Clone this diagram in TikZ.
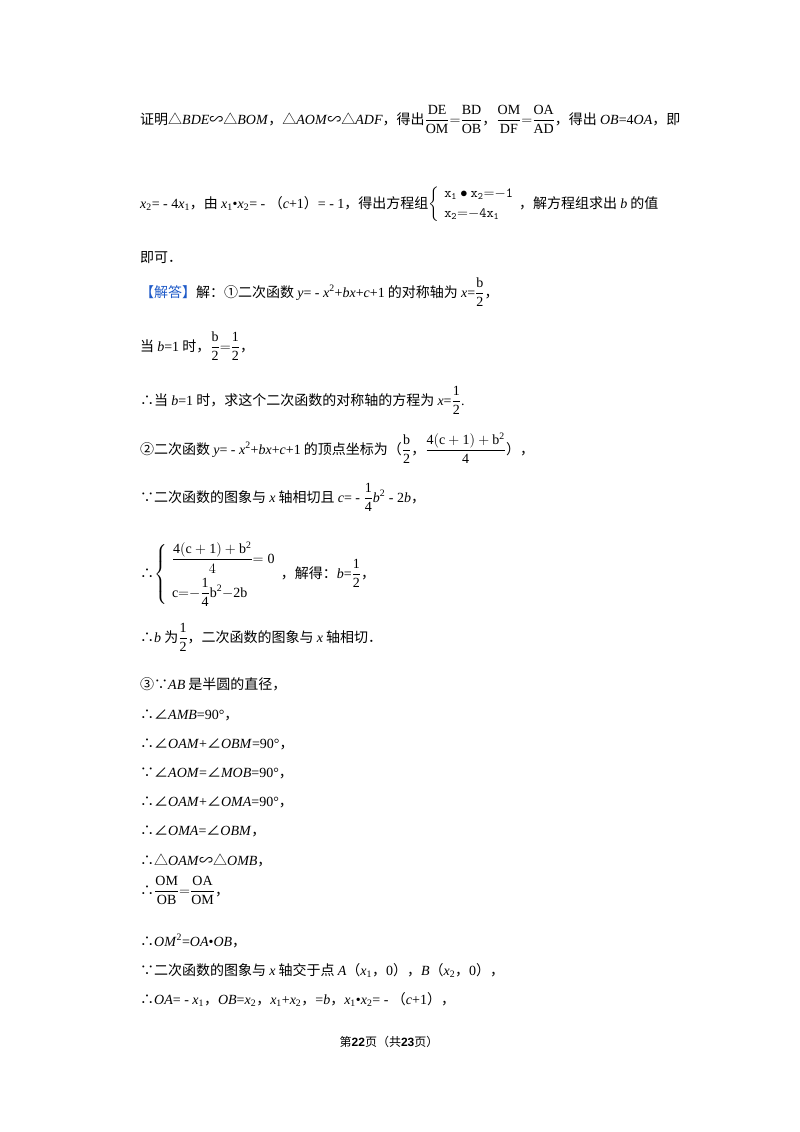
\documentclass[tikz,border=0pt]{standalone}
\usepackage{amsmath}
\usepackage{fontspec}
\setmainfont{Liberation Serif}
\newfontfamily\cjk{Noto Sans CJK SC}
\newfontfamily\cjkb{Noto Sans CJK SC Bold}
\newcommand\z[1]{{\cjk #1}}
\newcommand\tf[2]{\ensuremath{\dfrac{\mathrm{#1}}{\mathrm{#2}}}}
\definecolor{jd}{RGB}{30,90,200}
\begin{document}
\begin{tikzpicture}[x=1pt,y=-1pt,
  ln/.style={anchor=base west,inner sep=0pt,font=\fontsize{14}{16}\selectfont}]
\useasboundingbox (0,0) rectangle (800,1132);
\fill[white] (0,0) rectangle (800,1132);
\node[ln] (l1) at (140,124) {\z{证明△}\textit{BDE}\z{∽△}\textit{BOM}\z{，△}\textit{AOM}\z{∽△}\textit{ADF}\z{，得出}\tf{DE}{OM}$=$\tf{BD}{OB}\z{，}\tf{OM}{DF}$=$\tf{OA}{AD}\z{，得出 }\textit{OB}=4\textit{OA}\z{，即}};
\node[ln] (l2) at (140,208) {\textit{x}\textsubscript{2}= - 4\textit{x}\textsubscript{1}\z{，由 }\textit{x}\textsubscript{1}•\textit{x}\textsubscript{2}= - \z{（}\textit{c}+1\z{）}= - 1\z{，得出方程组}$\left\{\begin{array}{l}\mathtt{x_1\bullet x_2{=}{-}1}\\[4pt]\mathtt{x_2{=}{-}4x_1}\end{array}\right.$\z{，解方程组求出 }\textit{b}\z{ 的值}};
\node[ln] (l3) at (140,262) {\z{即可．}};
\node[ln] (l4) at (140,297) {\textcolor{jd}{\z{【解答】}}\z{解：①二次函数 }\textit{y}= - \textit{x}\textsuperscript{2}+\textit{bx}+\textit{c}+1\z{ 的对称轴为 }\textit{x}=\tf{b}{2}\z{，}};
\node[ln] (l5) at (140,351) {\z{当 }\textit{b}=1\z{ 时，}\tf{b}{2}$=$\tf{1}{2}\z{，}};
\node[ln] (l6) at (140,405) {\z{∴当 }\textit{b}=1\z{ 时，求这个二次函数的对称轴的方程为 }\textit{x}=\tf{1}{2}.};
\node[ln] (l7) at (140,454) {\z{②二次函数 }\textit{y}= - \textit{x}\textsuperscript{2}+\textit{bx}+\textit{c}+1\z{ 的顶点坐标为（}\tf{b}{2}\z{，}\tf{4(c+1)+b^2}{4}\z{），}};
\node[ln] (l8) at (140,502) {\z{∵二次函数的图象与 }\textit{x}\z{ 轴相切且 }\textit{c}= - \tf{1}{4}\textit{b}\textsuperscript{2} - 2\textit{b}\z{，}};
\node[ln] (l9) at (140,578) {\z{∴}$\left\{\begin{array}{l}\dfrac{\mathrm{4(c+1)+b^2}}{4}\mathrm{=0}\\[10pt]\mathrm{c{=}{-}\dfrac{1}{4}b^2{-}2b}\end{array}\right.$\z{，解得：}\textit{b}=\tf{1}{2}\z{，}};
\node[ln] (l10) at (140,642) {\z{∴}\textit{b}\z{ 为}\tf{1}{2}\z{，二次函数的图象与 }\textit{x}\z{ 轴相切．}};
\node[ln] (l11) at (140,689) {\z{③∵}\textit{AB}\z{ 是半圆的直径，}};
\node[ln] (l12) at (140,719) {\z{∴∠}\textit{AMB}=90°\z{，}};
\node[ln] (l13) at (140,748) {\z{∴∠}\textit{OAM}+\z{∠}\textit{OBM}=90°\z{，}};
\node[ln] (l14) at (140,777) {\z{∵∠}\textit{AOM}=\z{∠}\textit{MOB}=90°\z{，}};
\node[ln] (l15) at (140,806) {\z{∴∠}\textit{OAM}+\z{∠}\textit{OMA}=90°\z{，}};
\node[ln] (l16) at (140,835) {\z{∴∠}\textit{OMA}=\z{∠}\textit{OBM}\z{，}};
\node[ln] (l17) at (140,865) {\z{∴△}\textit{OAM}\z{∽△}\textit{OMB}\z{，}};
\node[ln] (l18) at (140,895) {\z{∴}\tf{OM}{OB}$=$\tf{OA}{OM}\z{，}};
\node[ln] (l19) at (140,946) {\z{∴}\textit{OM}\textsuperscript{2}=\textit{OA}•\textit{OB}\z{，}};
\node[ln] (l20) at (140,975) {\z{∵二次函数的图象与 }\textit{x}\z{ 轴交于点 }\textit{A}\z{（}\textit{x}\textsubscript{1}\z{，}0\z{），}\textit{B}\z{（}\textit{x}\textsubscript{2}\z{，}0\z{），}};
\node[ln] (l21) at (140,1004) {\z{∴}\textit{OA}= - \textit{x}\textsubscript{1}\z{，}\textit{OB}=\textit{x}\textsubscript{2}\z{，}\textit{x}\textsubscript{1}+\textit{x}\textsubscript{2}\z{，}=\textit{b}\z{，}\textit{x}\textsubscript{1}•\textit{x}\textsubscript{2}= - \z{（}\textit{c}+1\z{），}};
\node[anchor=base,inner sep=0pt,font=\fontsize{12}{14}\selectfont] (ft) at (389,1046) {\z{第}\textbf{\sffamily\fontspec{Liberation Sans}22}\z{页（共}\textbf{\fontspec{Liberation Sans}23}\z{页）}};
\end{tikzpicture}
\end{document}
